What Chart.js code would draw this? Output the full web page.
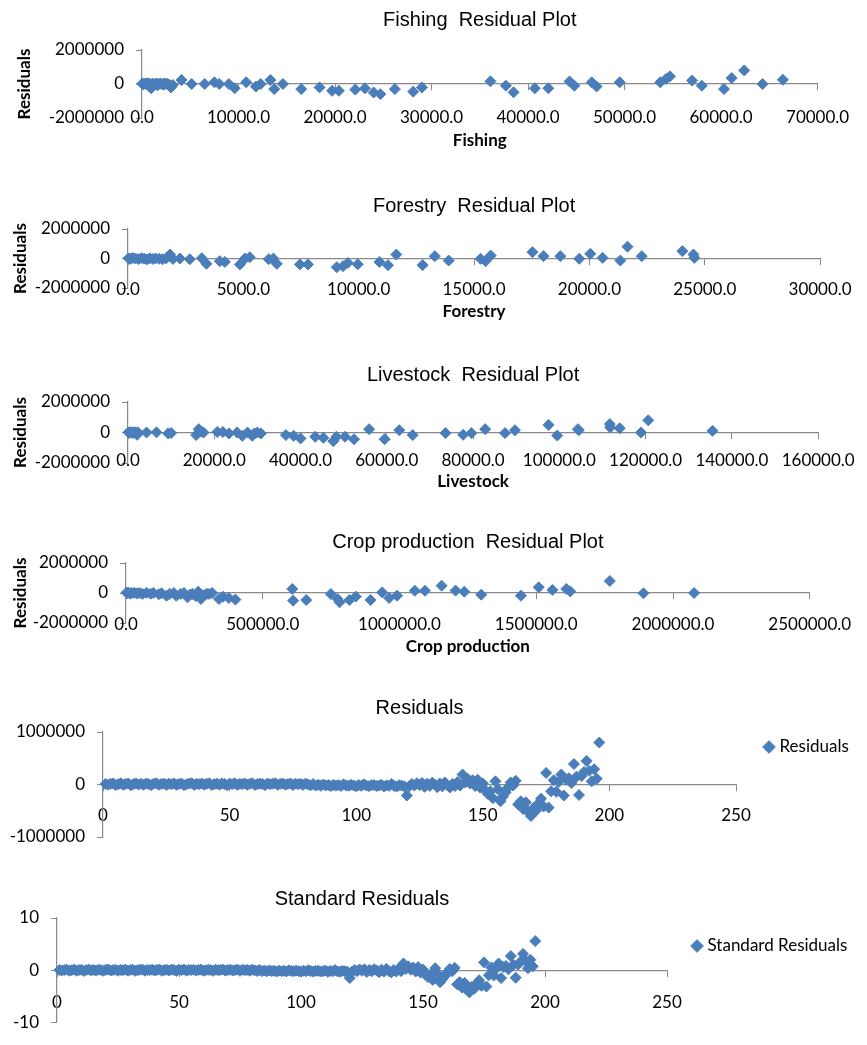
<!DOCTYPE html>
<html><head><meta charset="utf-8">
<script src="https://cdn.jsdelivr.net/npm/chart.js@4/dist/chart.umd.min.js"></script>
<style>
html,body{margin:0;padding:0;background:#fff;}
body{width:867px;height:1045px;position:relative;overflow:hidden;}
canvas{position:absolute;left:0;}
</style></head><body>
<canvas id="c1"></canvas><canvas id="c2"></canvas><canvas id="c3"></canvas>
<canvas id="c4"></canvas><canvas id="c5"></canvas><canvas id="c6"></canvas>
<script>
// ---------------- DATA ----------------
const fishingX   = [30,120,250,380,500,600,650,800,950,1000,1100,1250,1400,1550,1600,1700,1850,2000,2200,2300,2400,2600,2800,3000,3200,
  4100,5150,6500,7500,8000,9000,9600,10800,11800,12300,13300,13700,14600,16500,18400,19700,20400,22100,23100,24000,24700,26200,28100,29000,
  36100,37700,38500,40700,42100,44300,44800,46600,47100,49500,53700,54300,54700,57000,58000,60300,61100,62400,64300,66400];
const fishingRes = [20000,-10000,30000,0,15000,40000,-30000,10000,-250000,-50000,25000,-20000,5000,30000,-80000,-15000,10000,20000,-40000,30000,0,15000,-30000,-200000,-60000,
  235000,0,0,100000,0,0,-250000,100000,-150000,0,235000,-300000,0,-300000,-200000,-400000,-400000,-330000,-250000,-500000,-600000,-300000,-450000,-200000,
  157000,-100000,-490000,-250000,-250000,150000,-100000,100000,-150000,100000,100000,300000,450000,200000,-100000,-300000,350000,800000,0,250000];

const forestryX   = [20,100,200,320,450,580,700,820,950,1080,1200,1350,1500,1650,1820,1950,
  2250,2680,3200,3400,3980,4200,4850,5070,5280,6100,6300,6450,7450,7800,9050,9320,9530,9960,10900,11270,11630,12770,13300,
  13900,15280,15500,15720,17530,18010,18740,19560,20040,20570,21340,21650,22270,24030,24510,24550];
const forestryRes = [10000,-20000,30000,0,-40000,20000,-10000,-60000,15000,-30000,5000,-20000,-50000,10000,270000,-30000,
  0,-50000,20000,-360000,-180000,-230000,-400000,0,90000,-50000,0,-360000,-400000,-400000,-590000,-520000,-300000,-390000,-230000,-450000,270000,-450000,160000,
  -140000,-20000,-180000,200000,430000,160000,160000,-20000,320000,45000,-140000,800000,160000,500000,270000,45000];

const livestockX   = [100,300,600,900,1200,1500,1800,2100,2300,4300,6600,9300,10000,15800,16400,17000,17500,20700,22000,23400,25300,26500,27700,28800,29300,30000,30800,
  36600,38400,40000,43400,45300,47600,48300,50300,52400,55900,59500,62900,66000,73600,77700,79600,82800,87400,89700,97500,99500,
  104300,104500,111700,111800,114000,118900,120600,135500];
const livestockRes = [10000,-20000,30000,0,-40000,20000,-10000,-150000,10000,0,10000,-60000,-30000,-170000,220000,60000,0,40000,30000,-60000,0,-220000,0,-220000,-60000,0,-60000,
  -170000,-220000,-390000,-280000,-350000,-570000,-280000,-280000,-440000,220000,-440000,150000,-170000,-40000,-150000,-40000,220000,-40000,150000,500000,-200000,
  220000,150000,550000,330000,280000,0,800000,110000];

const cropX   = [2000,5000,10000,15000,20000,30000,40000,50000,60000,75000,90000,100000,120000,130000,148000,160000,175000,184000,200000,212000,225000,235000,243000,255000,264000,274000,285000,295000,304000,315000,
  340000,355000,376000,400000,608000,611000,659000,749000,774000,781000,817000,840000,894000,937000,962000,991000,1056000,1093000,
  1154000,1205000,1237000,1299000,1444000,1509000,1559000,1610000,1624000,1769000,1892000,2077000];
const cropRes = [30000,-10000,20000,-40000,0,10000,-30000,0,-60000,10000,-50000,0,-80000,-20000,-180000,-60000,0,-180000,-60000,0,-290000,-100000,-60000,-200000,90000,-400000,-150000,-50000,-60000,0,
  -400000,-250000,-330000,-440000,270000,-510000,-470000,-70000,-400000,-620000,-470000,-240000,-470000,40000,-330000,-180000,150000,150000,
  490000,160000,90000,-110000,-180000,380000,200000,270000,110000,800000,-20000,0];

// residuals by observation (1..196)
const residuals = [10000,-5000,15000,20000,-10000,5000,25000,-8000,12000,18000,-15000,8000,22000,0,14000,-6000,20000,10000,-12000,16000,
  24000,-4000,9000,18000,-10000,13000,6000,21000,-7000,11000,19000,-13000,4000,17000,25000,-9000,12000,7000,20000,-5000,
  15000,23000,-11000,8000,16000,-3000,21000,10000,-14000,18000,5000,24000,-8000,13000,9000,19000,-6000,14000,22000,-10000,
  7000,17000,11000,-12000,20000,4000,15000,23000,-7000,12000,18000,-4000,9000,21000,-11000,16000,6000,14000,-9000,19000,
  2000,-15000,8000,-20000,-5000,-25000,0,-18000,-10000,-30000,-8000,-22000,-12000,-28000,3000,-16000,-24000,-6000,-20000,-35000,
  -10000,-26000,5000,-18000,-32000,-14000,-8000,-30000,-20000,-4000,-38000,-15000,-25000,10000,-28000,-40000,-12000,-22000,-35000,
  -210000,
  -30000,10000,-20000,25000,-10000,30000,-45000,15000,-25000,35000,0,-50000,20000,-35000,40000,-15000,-55000,10000,-30000,45000,-20000,
  190000,40000,110000,20000,80000,-30000,90000,-60000,20000,-110000,-180000,-130000,-260000,60000,-90000,-320000,-230000,-150000,-60000,40000,
  -20000,70000,-380000,-320000,-470000,-340000,-520000,-600000,-450000,-500000,-360000,-270000,-420000,220000,-440000,-130000,80000,-140000,50000,190000,
  -210000,90000,120000,30000,390000,150000,-200000,160000,240000,450000,260000,60000,290000,110000,800000];
const stdResiduals = [0.07,-0.03,0.10,0.14,-0.07,0.03,0.17,-0.06,0.08,0.13,-0.10,0.06,0.15,0,0.10,-0.04,0.14,0.07,-0.08,0.11,
  0.17,-0.03,0.06,0.13,-0.07,0.09,0.04,0.15,-0.05,0.08,0.13,-0.09,0.03,0.12,0.17,-0.06,0.08,0.05,0.14,-0.03,
  0.10,0.16,-0.08,0.06,0.11,-0.02,0.15,0.07,-0.10,0.13,0.03,0.17,-0.06,0.09,0.06,0.13,-0.04,0.10,0.15,-0.07,
  0.05,0.12,0.08,-0.08,0.14,0.03,0.10,0.16,-0.05,0.08,0.13,-0.03,0.06,0.15,-0.08,0.11,0.04,0.10,-0.06,0.13,
  0.01,-0.10,0.06,-0.14,-0.03,-0.17,0,-0.13,-0.07,-0.21,-0.06,-0.15,-0.08,-0.20,0.02,-0.11,-0.17,-0.04,-0.14,-0.24,
  -0.07,-0.18,0.03,-0.13,-0.22,-0.10,-0.06,-0.21,-0.14,-0.03,-0.27,-0.10,-0.17,0.07,-0.20,-0.28,-0.08,-0.15,-0.24,
  -1.47,
  -0.21,0.07,-0.14,0.17,-0.07,0.21,-0.31,0.10,-0.17,0.24,0,-0.35,0.14,-0.24,0.28,-0.10,-0.38,0.07,-0.21,0.31,-0.14,
  1.33,0.28,0.77,0.14,0.56,-0.21,0.63,-0.42,0.14,-0.77,-1.26,-0.91,-1.82,0.42,-0.63,-2.24,-1.61,-1.05,-0.42,0.28,
  -0.14,0.49,-2.66,-2.24,-3.29,-2.38,-3.64,-4.20,-3.15,-3.50,-2.52,-1.89,-2.94,1.54,-3.08,-0.91,0.56,-0.98,0.35,1.33,
  -1.47,0.63,0.84,0.21,2.73,1.05,-1.40,1.12,1.68,3.15,1.82,0.42,2.03,0.77,5.59];

// tick labels
const fishingTicks   = [0,10000,20000,30000,40000,50000,60000,70000];
const forestryTicks  = [0,5000,10000,15000,20000,25000,30000];
const livestockTicks = [0,20000,40000,60000,80000,100000,120000,140000,160000];
const cropTicks      = [0,500000,1000000,1500000,2000000,2500000];
const residPlotYTicks = [-2000000,0,2000000];
const obsTicks       = [0,50,100,150,200,250];
const residualsYTicks = [-1000000,0,1000000];
const stdYTicks      = [-10,0,10];

// ---------------- STYLE ----------------
const W = 867;
const BLUE = '#4A7EBB';
const GRAY = '#898989';
const TICK_FAMILY = 'Lato, "Open Sans", sans-serif';
const TITLE_FAMILY = '"Liberation Sans", Arial, sans-serif';
const TICK_SIZE = 17, TICK_LH = TICK_SIZE * 1.2;
const TITLE_SIZE = 20, TITLE_LH = TITLE_SIZE * 1.2;
const TL = 6;

function pts(xs, ys) { return xs.map((x, i) => ({x: x, y: ys[i]})); }
function obsPts(ys) { return ys.map((y, i) => ({x: i + 1, y: y})); }
const setTicks = arr => scale => { scale.ticks = arr.map(v => ({value: v})); };

function panel(cfg) {
  const cv = document.getElementById(cfg.id);
  const T = cfg.top;
  cv.width = W; cv.height = cfg.h; cv.style.top = T + 'px';
  const tPadTop = cfg.titleCY - T - TITLE_LH / 2;
  const tPadBot = (cfg.plotTop - T) - tPadTop - TITLE_LH;
  const zeroPx = (cfg.plotTop + cfg.plotBottom) / 2;
  const xMin = cfg.xTicks[0], xMax = cfg.xTicks[cfg.xTicks.length - 1];
  const yMin = cfg.yTicks[0], yMax = cfg.yTicks[cfg.yTicks.length - 1];
  const tickFont = {family: TICK_FAMILY, size: TICK_SIZE};
  const boldFont = {family: TICK_FAMILY, size: TICK_SIZE, weight: 'bold'};
  const hasLegend = !!cfg.legendCX;
  const plugins = [];
  if (hasLegend) {
    plugins.push({
      id: 'legendPlace',
      afterInit(chart) {
        const lg = chart.legend; const f = lg.fit.bind(lg);
        lg.fit = function () { f(); this.width = W - cfg.plotRight; };
      },
      afterLayout(chart) {
        const lg = chart.legend; const w = lg.width, h = lg.height;
        lg.left = cfg.legendCX - 12; lg.right = lg.left + w;
        lg.top = cfg.legendCY - T - 18.5; lg.bottom = lg.top + h;
      }
    });
  }
  return new Chart(cv, {
    type: 'scatter',
    data: {datasets: [{
      label: cfg.label || '',
      data: cfg.data,
      xAxisID: 'x', yAxisID: 'y',
      pointStyle: 'rectRot', pointRadius: 5.5, pointHoverRadius: 5.5,
      backgroundColor: BLUE, borderColor: BLUE, borderWidth: 1,
      clip: false
    }]},
    options: {
      responsive: false, animation: false, devicePixelRatio: 1,
      layout: {padding: {left: 0, top: 0, bottom: T + cfg.h - cfg.plotBottom,
        right: hasLegend ? 0 : W - cfg.plotRight}},
      plugins: {
        tooltip: {enabled: false},
        title: {display: true, text: cfg.title, fullSize: false, color: '#000',
          font: {family: TITLE_FAMILY, size: TITLE_SIZE, weight: 'normal'},
          padding: {top: tPadTop, bottom: tPadBot}},
        legend: hasLegend ? {display: true, position: 'right', align: 'start', fullSize: false,
          labels: {usePointStyle: true, pointStyle: 'rectRot', boxWidth: 4, boxHeight: 9, padding: 10,
            font: tickFont, color: '#000'}} : {display: false}
      },
      scales: {
        x: {type: 'linear', position: {y: 0}, min: xMin, max: xMax,
          afterBuildTicks: setTicks(cfg.xTicks),
          ticks: {display: true, padding: cfg.xLabelCY - zeroPx - TL - TICK_LH / 2, font: tickFont, color: '#000',
            maxRotation: 0, autoSkip: false, callback: cfg.xFmt},
          grid: {display: true, drawOnChartArea: false, drawTicks: true, tickLength: TL, color: GRAY, lineWidth: 1},
          border: {display: true, color: GRAY, width: 1.2},
          title: cfg.xTitle ? {display: true, text: cfg.xTitle, color: '#000', font: boldFont,
            padding: {top: 0, bottom: 0}} : {display: false},
          afterFit: s => { s.height = cfg.xTitleCY ? (cfg.xTitleCY - zeroPx + TICK_LH / 2) : 40; }},
        y: {type: 'linear', position: 'left', min: yMin, max: yMax,
          afterBuildTicks: setTicks(cfg.yTicks),
          ticks: {padding: 12, font: tickFont, color: '#000', callback: v => String(v)},
          grid: {display: true, drawOnChartArea: false, drawTicks: true, tickLength: TL, color: GRAY, lineWidth: 1},
          border: {display: true, color: GRAY, width: 1.2},
          title: cfg.yTitle ? {display: true, text: cfg.yTitle, color: '#000', font: boldFont,
            padding: {top: cfg.yTitleCX - TICK_LH / 2, bottom: 0}} : {display: false},
          afterFit: s => { s.width = cfg.plotLeft; }}
      }
    },
    plugins: plugins
  });
}

const fmt1 = v => Number(v).toFixed(1);
const fmt0 = v => String(v);

panel({id: 'c1', top: 0, h: 160, title: 'Fishing  Residual Plot', titleCY: 20,
  plotLeft: 142, plotRight: 820, plotTop: 50, plotBottom: 118, xLabelCY: 118,
  xTitle: 'Fishing', xTitleCY: 141, yTitle: 'Residuals', yTitleCX: 24.5,
  xTicks: fishingTicks, yTicks: residPlotYTicks, xFmt: fmt1, data: pts(fishingX, fishingRes)});
panel({id: 'c2', top: 180, h: 155, title: 'Forestry  Residual Plot', titleCY: 206,
  plotLeft: 128, plotRight: 822, plotTop: 229, plotBottom: 288, xLabelCY: 290,
  xTitle: 'Forestry', xTitleCY: 312, yTitle: 'Residuals', yTitleCX: 21,
  xTicks: forestryTicks, yTicks: residPlotYTicks, xFmt: fmt1, data: pts(forestryX, forestryRes)});
panel({id: 'c3', top: 350, h: 150, title: 'Livestock  Residual Plot', titleCY: 375,
  plotLeft: 128, plotRight: 823, plotTop: 402, plotBottom: 463, xLabelCY: 461,
  xTitle: 'Livestock', xTitleCY: 482, yTitle: 'Residuals', yTitleCX: 21,
  xTicks: livestockTicks, yTicks: residPlotYTicks, xFmt: fmt1, data: pts(livestockX, livestockRes)});
panel({id: 'c4', top: 520, h: 150, title: 'Crop production  Residual Plot', titleCY: 542,
  plotLeft: 126, plotRight: 817, plotTop: 563, plotBottom: 623, xLabelCY: 625,
  xTitle: 'Crop production', xTitleCY: 647, yTitle: 'Residuals', yTitleCX: 20.5,
  xTicks: cropTicks, yTicks: residPlotYTicks, xFmt: fmt1, data: pts(cropX, cropRes)});
panel({id: 'c5', top: 690, h: 175, title: 'Residuals', titleCY: 708, label: 'Residuals',
  plotLeft: 103, plotRight: 736, plotTop: 732, plotBottom: 837, xLabelCY: 816,
  legendCX: 769, legendCY: 747,
  xTicks: obsTicks, yTicks: residualsYTicks, xFmt: fmt0, data: obsPts(residuals)});
panel({id: 'c6', top: 875, h: 170, title: 'Standard Residuals', titleCY: 899, label: 'Standard Residuals',
  plotLeft: 57, plotRight: 667, plotTop: 918, plotBottom: 1033, xLabelCY: 1008,
  legendCX: 697, legendCY: 946,
  xTicks: obsTicks, yTicks: stdYTicks, xFmt: fmt0, data: obsPts(stdResiduals)});
</script>
</body></html>
